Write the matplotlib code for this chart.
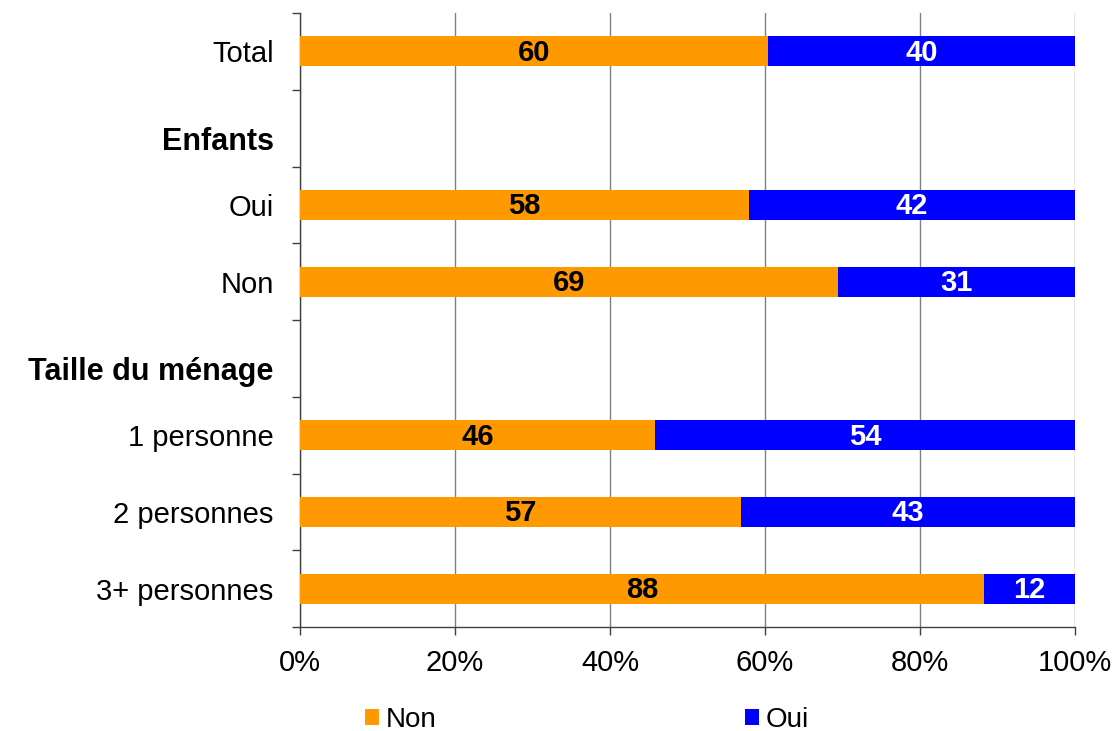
import matplotlib
matplotlib.use("Agg")
import matplotlib.pyplot as plt
from matplotlib.patches import Patch
import numpy as np

plt.rcParams['font.family'] = ['Liberation Sans', 'DejaVu Sans']

categories = ["Total", "Enfants", "Oui", "Non", "Taille du ménage", "1 personne", "2 personnes", "3+ personnes"]
is_header = [False, True, False, False, True, False, False, False]
non_vals = [60.4, None, 57.9, 69.4, None, 45.8, 56.9, 88.2]
oui_vals = [39.6, None, 42.1, 30.6, None, 54.2, 43.1, 11.8]
x_ticks = [0, 20, 40, 60, 80, 100]
x_ticklabels = ["0%", "20%", "40%", "60%", "80%", "100%"]

col_non = "#FF9900"
col_oui = "#0000FF"

fig = plt.figure(figsize=(11.14, 7.31), dpi=100)
ax = fig.add_axes([300/1114, 1-627/731, 775/1114, 614/731])

fs = 21
bar_h = 0.39
for i, (n, o) in enumerate(zip(non_vals, oui_vals)):
    if n is None:
        continue
    ax.barh(i, n, height=bar_h, color=col_non, zorder=3)
    ax.barh(i, o, left=n, height=bar_h, color=col_oui, zorder=3)
    ax.text(n/2, i + 0.02, f"{round(n)}", ha='center', va='center', fontsize=21,
            fontweight='bold', color='black', zorder=4)
    ax.text(n + o/2, i + 0.02, f"{round(o)}", ha='center', va='center', fontsize=21,
            fontweight='bold', color='white', zorder=4)

ax.set_xlim(0, 100)
ax.set_ylim(len(categories) - 0.5, -0.5)

# label positions (headers slightly lower)
label_pos = [i + (0.13 if h else 0) for i, h in enumerate(is_header)]
ax.set_yticks(label_pos)
ax.set_yticklabels(categories, fontsize=fs)
for lab, h in zip(ax.get_yticklabels(), is_header):
    if h:
        lab.set_fontweight('bold')
        lab.set_fontsize(22)
ax.tick_params(axis='y', which='major', length=0, pad=19)
ax.set_yticks(np.arange(-0.5, len(categories), 1.0), minor=True)
ax.tick_params(axis='y', which='minor', length=6, width=1, color='#404040', direction='out')

ax.set_xticks(x_ticks)
ax.set_xticklabels(x_ticklabels, fontsize=fs)
ax.tick_params(axis='x', length=6, width=1, color='#404040', direction='out', pad=10)

ax.grid(axis='x', color='#808080', linewidth=1, zorder=0)
ax.set_axisbelow(True)
for s in ['top', 'right']:
    ax.spines[s].set_visible(False)
for s in ['left', 'bottom']:
    ax.spines[s].set_color('#404040')
    ax.spines[s].set_linewidth(1)

handles = [Patch(facecolor=col_non, edgecolor='none', label='Non'),
           Patch(facecolor=col_oui, edgecolor='none', label='Oui')]
fig.legend(handles=handles, loc='center', bbox_to_anchor=(0.527, 1-720/731), ncol=2,
           frameon=False, fontsize=20, handlelength=0.5, handleheight=0.5,
           handletextpad=0.25, columnspacing=11.1, borderpad=0.1)

fig.savefig("out.png", dpi=100)
